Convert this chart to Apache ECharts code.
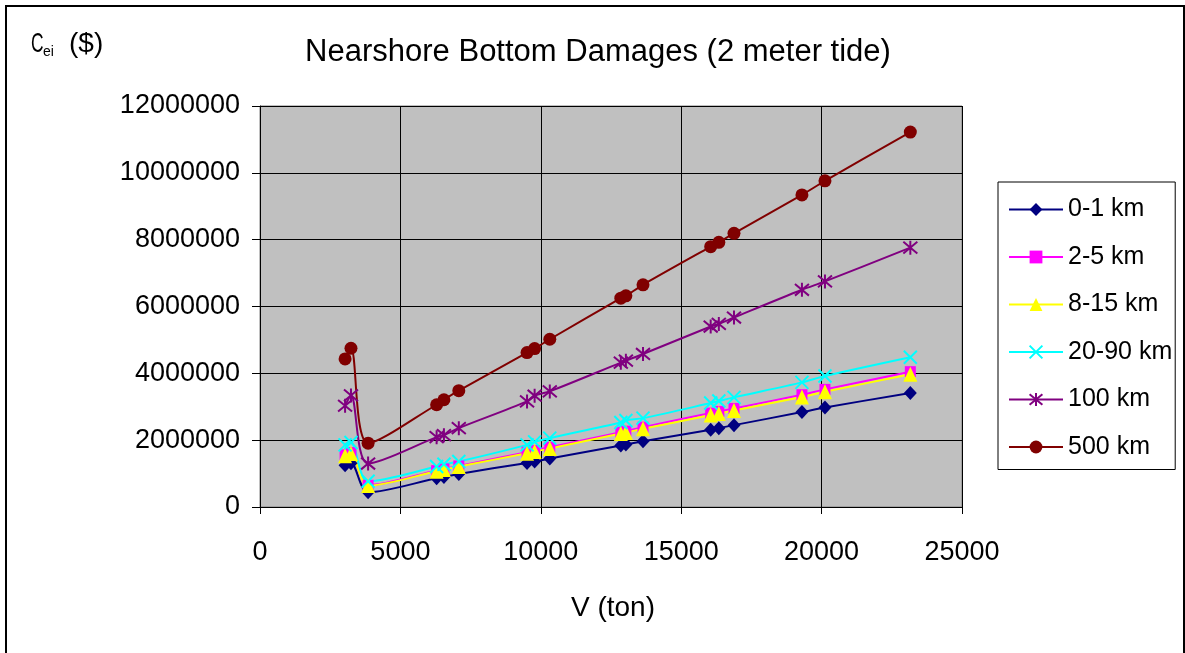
<!DOCTYPE html>
<html>
<head>
<meta charset="utf-8">
<script src="https://cdn.jsdelivr.net/npm/echarts@6/dist/echarts.min.js"></script>
<style>
  html, body { margin: 0; padding: 0; background: #ffffff; }
  #chart { width: 1185px; height: 653px; }
</style>
</head>
<body>
<div id="chart"></div>
<script>
// Vessel size (tons) at which bottom damage costs were evaluated
const tonnage = [3030, 3240, 3850, 6290, 6550, 7080, 9510, 9780, 10320,
                 12850, 13030, 13640, 16050, 16340, 16880, 19300, 20120, 23160];

// Damage cost ($) per distance band
const cost_0_1km = [1250000, 1310000, 440000, 860000, 900000, 990000, 1320000, 1360000, 1450000,
                    1840000, 1870000, 1970000, 2310000, 2360000, 2450000, 2840000, 2980000, 3410000];
const cost_2_5km = [1560000, 1630000, 650000, 1090000, 1140000, 1230000, 1640000, 1690000, 1790000,
                    2240000, 2270000, 2390000, 2810000, 2860000, 2950000, 3360000, 3520000, 4050000];
const cost_8_15km = [1530000, 1600000, 640000, 1070000, 1120000, 1210000, 1610000, 1660000, 1750000,
                     2200000, 2230000, 2340000, 2750000, 2800000, 2890000, 3290000, 3450000, 3970000];
const cost_20_90km = [1860000, 1930000, 770000, 1210000, 1280000, 1360000, 1860000, 1950000, 2060000,
                      2530000, 2590000, 2660000, 3110000, 3170000, 3280000, 3730000, 3920000, 4480000];
const cost_100km = [3030000, 3340000, 1300000, 2090000, 2150000, 2360000, 3160000, 3330000, 3460000,
                    4320000, 4380000, 4580000, 5400000, 5480000, 5670000, 6500000, 6750000, 7760000];
const cost_500km = [4430000, 4750000, 1910000, 3060000, 3210000, 3480000, 4620000, 4740000, 5020000,
                    6250000, 6320000, 6650000, 7790000, 7920000, 8190000, 9340000, 9760000, 11220000];

const bandNames = ['0-1 km', '2-5 km', '8-15 km', '20-90 km', '100 km', '500 km'];

// Axis ranges and tick steps
const xRange = [0, 25000];
const xStep = 5000;
const yRange = [0, 12000000];
const yStep = 2000000;

const FONT = '"Liberation Sans", Arial, sans-serif';

const crossPath = 'path://M0,0L10,10M10,0L0,10';
const starPath = 'path://M0,0L10,10M10,0L0,10M5,-1L5,11';

function pairs(ys) {
  return tonnage.map((x, i) => [x, ys[i]]);
}

function band(name, ys, color, symbol, size, stroked) {
  return {
    name: name,
    type: 'line',
    data: pairs(ys),
    smooth: 0.3,
    symbol: symbol,
    symbolSize: size,
    showAllSymbol: true,
    lineStyle: { color: color, width: 2 },
    itemStyle: stroked
      ? { color: color, borderColor: color, borderWidth: 2 }
      : { color: color, borderWidth: 0 },
    emphasis: { disabled: true },
    animation: false
  };
}

const chart = echarts.init(document.getElementById('chart'), null, { renderer: 'canvas' });

chart.setOption({
  backgroundColor: '#ffffff',
  animation: false,
  textStyle: { fontFamily: FONT, color: '#000' },
  grid: {
    left: 260, top: 106, right: 223, bottom: 146,
    show: true, backgroundColor: '#c0c0c0', borderColor: '#808080', borderWidth: 1
  },
  xAxis: {
    type: 'value',
    min: xRange[0], max: xRange[1], interval: xStep,
    axisLine: { show: true, onZero: false, lineStyle: { color: '#000', width: 1 } },
    axisTick: { show: true, inside: false, length: 7, lineStyle: { color: '#000' } },
    axisLabel: { fontSize: 27, color: '#000', fontFamily: FONT, margin: 32, formatter: v => String(v) },
    splitLine: { show: true, lineStyle: { color: '#000', width: 1 } }
  },
  yAxis: {
    type: 'value',
    min: yRange[0], max: yRange[1], interval: yStep,
    axisLine: { show: true, lineStyle: { color: '#000', width: 1 } },
    axisTick: { show: true, inside: false, length: 8, lineStyle: { color: '#000' } },
    axisLabel: { fontSize: 27, color: '#000', fontFamily: FONT, margin: 20,
                 padding: [4, 0, 0, 0], formatter: v => String(v) },
    splitLine: { show: true, lineStyle: { color: '#000', width: 1 } }
  },
  legend: {
    orient: 'vertical',
    left: 998, top: 182,
    padding: [15, 3, 10, 10],
    itemWidth: 54, itemHeight: 16, itemGap: 22.5,
    backgroundColor: '#ffffff', borderColor: '#000', borderWidth: 1,
    textStyle: { fontSize: 25, lineHeight: 25, color: '#000', fontFamily: FONT },
    data: bandNames,
    selectedMode: false
  },
  graphic: [
    {
      type: 'rect', z: -10, silent: true,
      shape: { x: 6, y: 6, width: 1178, height: 700 },
      style: { fill: null, stroke: '#000', lineWidth: 2 }
    },
    {
      type: 'text', x: 598, y: 52,
      style: { text: 'Nearshore Bottom Damages (2 meter tide)', fontSize: 31, fontFamily: FONT,
               fill: '#000', textAlign: 'center', textVerticalAlign: 'middle' }
    },
    {
      type: 'text', x: 31, y: 44, scaleX: 0.62,
      style: { text: 'C', fontSize: 28, fontFamily: FONT, fill: '#000',
               textAlign: 'left', textVerticalAlign: 'middle' }
    },
    {
      type: 'text', x: 43, y: 52,
      style: { text: 'ei', fontSize: 14, fontFamily: FONT, fill: '#000',
               textAlign: 'left', textVerticalAlign: 'middle' }
    },
    {
      type: 'text', x: 69, y: 44,
      style: { text: '($)', fontSize: 28, fontFamily: FONT, fill: '#000',
               textAlign: 'left', textVerticalAlign: 'middle' }
    },
    {
      type: 'text', x: 613, y: 608,
      style: { text: 'V (ton)', fontSize: 28, fontFamily: FONT, fill: '#000',
               textAlign: 'center', textVerticalAlign: 'middle' }
    }
  ],
  series: [
    band(bandNames[0], cost_0_1km, '#000080', 'diamond', [13, 14], false),
    band(bandNames[1], cost_2_5km, '#ff00ff', 'rect', 11, false),
    band(bandNames[2], cost_8_15km, '#ffff00', 'triangle', [14, 15], false),
    band(bandNames[3], cost_20_90km, '#00ffff', crossPath, 13, true),
    band(bandNames[4], cost_100km, '#800080', starPath, 14, true),
    band(bandNames[5], cost_500km, '#800000', 'circle', 13, false)
  ]
});
</script>
</body>
</html>
